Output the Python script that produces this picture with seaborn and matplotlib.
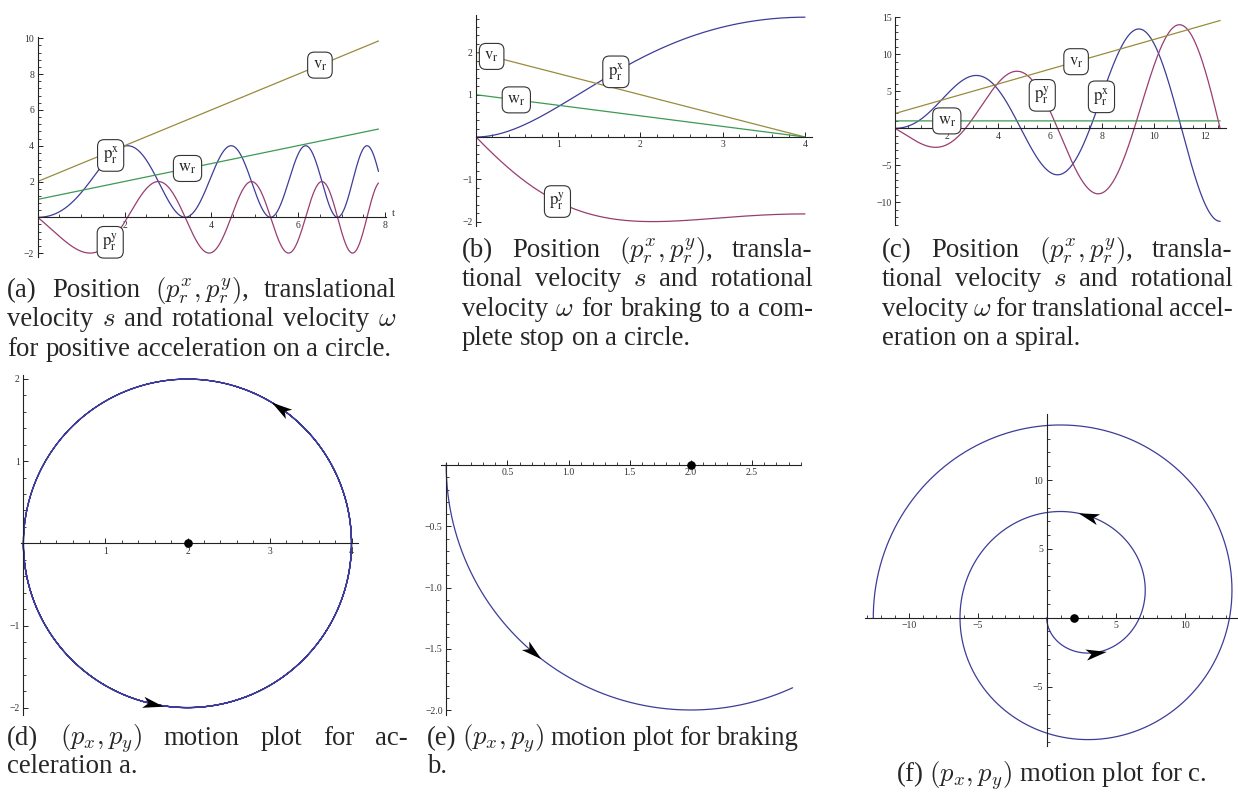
import numpy as np
import pandas as pd
import matplotlib
matplotlib.use('Agg')
import matplotlib.pyplot as plt
import seaborn as sns
from matplotlib.markers import MarkerStyle
from matplotlib.path import Path
from matplotlib.transforms import Affine2D
from matplotlib.ticker import FixedLocator, MultipleLocator, FixedFormatter

# speeds (start / end of each run), linear in time
t_acc = [0.0, 7.85]
v_acc = [2.0, 9.85]
w_acc = [1.0, 4.93]

t_brk = [0.0, 4.0]
v_brk = [2.0, 0.0]
w_brk = [1.0, 0.0]

t_spi = [0.0, 12.57]
v_spi = [2.0, 14.57]
w_spi = [1.0, 1.0]

start_dot = [2.0, 0.0]

# times at which the curve labels and direction arrows sit
lab_acc = {'px': 1.68, 'py': 1.67, 'v': 6.5, 'w': 3.45}
lab_brk = {'px': 1.70, 'py': 0.99, 'v': 0.19, 'w': 0.49}
lab_spi = {'px': 7.98, 'py': 5.69, 'v': 7.0, 'w': 2.0}
arrows_acc = [1.07, 2.52]
arrows_brk = [0.99]
arrows_spi = [1.72, 4.4]

C_PX, C_PY, C_V, C_W = '#3d3d99', '#993d71', '#998b3d', '#3d9954'

W, H = 1238, 793
sns.set_theme(style='white')
plt.rcParams['font.family'] = ['Liberation Serif', 'DejaVu Serif']
plt.rcParams['mathtext.fontset'] = 'stix'
fig = plt.figure(figsize=(W / 100, H / 100), dpi=100)
fig.patch.set_facecolor('white')


def run(t_pts, v_pts, w_pts, n=4000):
    # integrate the unicycle motion, heading starts pointing down
    t = np.linspace(t_pts[0], t_pts[-1], n)
    v = np.interp(t, t_pts, v_pts)
    w = np.interp(t, t_pts, w_pts)
    dt = np.diff(t)
    th = np.concatenate([[0], np.cumsum(0.5 * (w[1:] + w[:-1]) * dt)])
    vx = v * np.sin(th)
    vy = -v * np.cos(th)
    px = np.concatenate([[0], np.cumsum(0.5 * (vx[1:] + vx[:-1]) * dt)])
    py = np.concatenate([[0], np.cumsum(0.5 * (vy[1:] + vy[:-1]) * dt)])
    return pd.DataFrame({'t': t, 'v': v, 'w': w, 'px': px, 'py': py})


df_acc = run(t_acc, v_acc, w_acc)
df_brk = run(t_brk, v_brk, w_brk)
df_spi = run(t_spi, v_spi, w_spi)


def fmt(v, dec=False):
    s = ('%.1f' % v) if dec else ('%g' % v)
    return s.replace('-', '\u2212')


def axes_at(kx, x0, ky, y0, xlim, ylim, xt, xm, yt, ym, dec=False):
    left = x0 + kx * xlim[0]
    right = x0 + kx * xlim[1]
    top = y0 - ky * ylim[1]
    bottom = y0 - ky * ylim[0]
    ax = fig.add_axes([left / W, 1 - bottom / H, (right - left) / W, (bottom - top) / H])
    ax.set_xlim(xlim)
    ax.set_ylim(ylim)
    ax.patch.set_visible(False)
    for s in ['top', 'right']:
        ax.spines[s].set_visible(False)
    for s in ['left', 'bottom']:
        ax.spines[s].set_position(('data', 0))
        ax.spines[s].set_color('#222222')
        ax.spines[s].set_linewidth(0.8)
    ax.xaxis.set_major_locator(FixedLocator(xt))
    ax.xaxis.set_major_formatter(FixedFormatter([fmt(v, dec) for v in xt]))
    ax.xaxis.set_minor_locator(MultipleLocator(xm))
    ax.yaxis.set_major_locator(FixedLocator(yt))
    ax.yaxis.set_major_formatter(FixedFormatter([fmt(v, dec) for v in yt]))
    ax.yaxis.set_minor_locator(MultipleLocator(ym))
    ax.tick_params(which='both', direction='in', color='#222222', labelsize=7,
                   labelcolor='#333333', bottom=True, left=True)
    ax.tick_params(which='major', length=3.5, width=0.7, pad=2.5)
    ax.tick_params(which='minor', length=2, width=0.6)
    return ax


def label(ax, df, col, t, txt):
    i = int(np.searchsorted(df['t'], t))
    ax.text(df['t'][i], df[col][i], txt, fontsize=12, ha='center', va='center', zorder=5,
            bbox=dict(boxstyle='round,pad=0.3,rounding_size=0.4', fc='white', ec='#333333', lw=0.8))


def time_panel(ax, df, labs):
    for col, c in [('px', C_PX), ('py', C_PY), ('v', C_V), ('w', C_W)]:
        sns.lineplot(data=df, x='t', y=col, color=c, lw=0.9, ax=ax, estimator=None, sort=False)
    label(ax, df, 'v', labs['v'], r'$\mathrm{v_r}$')
    label(ax, df, 'w', labs['w'], r'$\mathrm{w_r}$')
    label(ax, df, 'px', labs['px'], r'$\mathrm{p_r^x}$')
    label(ax, df, 'py', labs['py'], r'$\mathrm{p_r^y}$')
    ax.set_xlabel('')
    ax.set_ylabel('')


arrow_path = Path([(0.5, 0), (-0.5, 0.27), (-0.25, 0), (-0.5, -0.27), (0.5, 0)],
                  [Path.MOVETO, Path.LINETO, Path.LINETO, Path.LINETO, Path.CLOSEPOLY])


def motion_panel(ax, df, arrows):
    sns.lineplot(data=df, x='px', y='py', color=C_PX, lw=0.9, ax=ax, estimator=None, sort=False)
    for t in arrows:
        i = int(np.searchsorted(df['t'], t))
        ang = np.degrees(np.arctan2(df['py'][i + 1] - df['py'][i - 1], df['px'][i + 1] - df['px'][i - 1]))
        m = MarkerStyle(arrow_path, transform=Affine2D().rotate_deg(ang))
        ax.plot(df['px'][i], df['py'][i], marker=m, ms=15, color='black', mew=0, zorder=4)
    ax.plot(start_dot[0], start_dot[1], 'o', color='black', ms=5.2, zorder=5, clip_on=False)
    ax.set_xlabel('')
    ax.set_ylabel('')


# (a)
ax = axes_at(43.41, 37.7, 17.9, 217.3, (0, 8.03), (-2.2, 10.05),
             [2, 4, 6, 8], 0.5, [-2, 2, 4, 6, 8, 10], 0.4)
time_panel(ax, df_acc, lab_acc)
ax.text(8.2, 0.2, 't', fontsize=7.5, ha='center', va='center', color='#333333', clip_on=False)

# (b)
ax = axes_at(82.25, 476, 42.3, 137, (0, 4.08), (-2.1, 2.88),
             [1, 2, 3, 4], 0.2, [-2, -1, 1, 2], 0.2)
time_panel(ax, df_brk, lab_brk)

# (c)
ax = axes_at(25.87, 895, 7.4, 128.3, (0, 12.8), (-13.1, 15.1),
             [2, 4, 6, 8, 10, 12], 0.5, [-10, -5, 5, 10, 15], 1)
time_panel(ax, df_spi, lab_spi)

# (d)
ax = axes_at(82.1, 23.3, 82.2, 543.3, (-0.03, 4.08), (-2.09, 2.05),
             [1, 2, 3, 4], 0.2, [-2, -1, 1, 2], 0.2)
motion_panel(ax, df_acc, arrows_acc)

# (e)
ax = axes_at(122.3, 446.2, 122.5, 465, (-0.04, 2.9), (-2.04, 0.015),
             [0.5, 1.0, 1.5, 2.0, 2.5], 0.1, [-2.0, -1.5, -1.0, -0.5], 0.1, dec=True)
motion_panel(ax, df_brk, arrows_brk)

# (f)
ax = axes_at(13.8, 1046.7, 13.77, 617.7, (-13.2, 13.9), (-9.35, 14.8),
             [-10, -5, 5, 10], 1, [-5, 5, 10], 1)
motion_panel(ax, df_spi, arrows_spi)

# captions, justified like the LaTeX original
renderer = fig.canvas.get_renderer()
CAP = 19.3


def cap_line(x0, x1, y, text, justify=True):
    words = text.split(' ')
    texts = [fig.text(0, 0, w, fontsize=CAP, va='baseline', ha='left', math_fontfamily='cm')
             for w in words]
    widths = [t.get_window_extent(renderer).width for t in texts]
    if justify and len(words) > 1:
        gap = (x1 - x0 - sum(widths)) / (len(words) - 1)
    else:
        gap = CAP * 100 / 72 * 0.25
    x = x0
    for t, wd in zip(texts, widths):
        t.set_position((x / W, 1 - y / H))
        x += wd + gap


captions = [
    (7.3, 396, [296.7, 326.5, 356],
     ['(a) Position $(p_r^x,p_r^y)$, translational',
      r'velocity $s$ and rotational velocity $\omega$',
      'for positive acceleration on a circle.']),
    (461.7, 812.7, [256.7, 286.3, 316, 345.5],
     ['(b) Position $(p_r^x,p_r^y)$, transla-',
      'tional velocity $s$ and rotational',
      r'velocity $\omega$ for braking to a com-',
      'plete stop on a circle.']),
    (881.7, 1232.7, [256.7, 286.3, 316, 345.5],
     ['(c) Position $(p_r^x,p_r^y)$, transla-',
      'tional velocity $s$ and rotational',
      r'velocity $\omega$ for translational accel-',
      'eration on a spiral.']),
    (7.3, 408, [745, 773.3],
     ['(d) $(p_x,p_y)$ motion plot for ac-',
      'celeration a.']),
    (427.3, 798.3, [745, 773.3],
     ['(e) $(p_x,p_y)$ motion plot for braking',
      'b.']),
]
for x0, x1, ys, lines in captions:
    for k, (y, line) in enumerate(zip(ys, lines)):
        cap_line(x0, x1, y, line, justify=(k < len(lines) - 1))

fig.text(1051.7 / W, 1 - 782.5 / H, '(f) $(p_x,p_y)$ motion plot for c.', fontsize=CAP,
         ha='center', va='baseline', math_fontfamily='cm')

fig.savefig('out.png', dpi=100, facecolor='white')
